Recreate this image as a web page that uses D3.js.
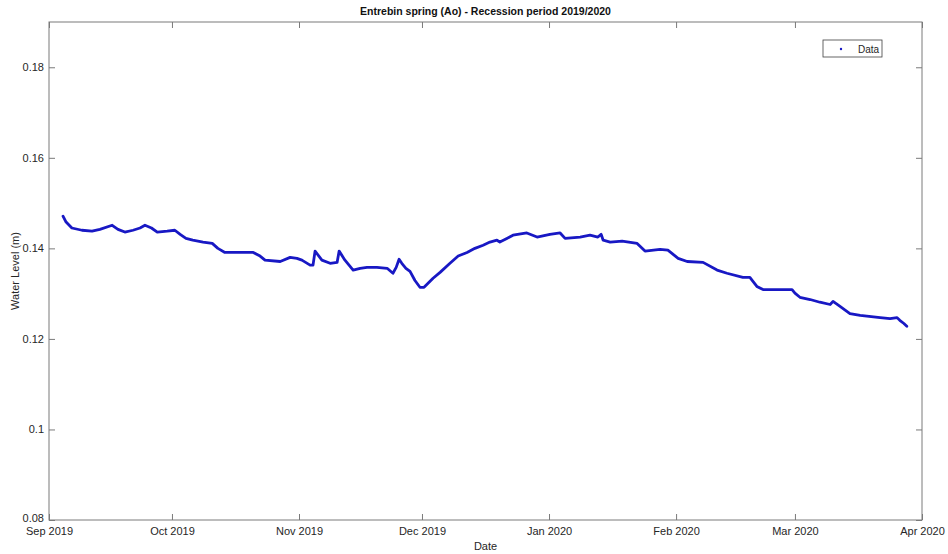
<!DOCTYPE html>
<html>
<head>
<meta charset="utf-8">
<script src="https://cdn.jsdelivr.net/npm/d3@7"></script>
<style>
  body { margin: 0; background: #fff; }
  text { font-family: "Liberation Sans", Arial, sans-serif; }
</style>
</head>
<body>
<div id="chart"></div>
<script>
const dates = [
  "2019-09-04T10:00","2019-09-05T04:00","2019-09-06T14:00","2019-09-09T01:00","2019-09-11T12:00",
  "2019-09-13T10:00","2019-09-16T10:00","2019-09-17T20:00","2019-09-19T12:00","2019-09-21T12:00",
  "2019-09-23T05:00","2019-09-24T10:00","2019-09-26T00:00","2019-09-27T10:00","2019-09-29T20:00",
  "2019-10-01T17:00","2019-10-03T00:00","2019-10-04T10:00","2019-10-06T02:00","2019-10-08T14:00",
  "2019-10-10T20:00","2019-10-12T05:00","2019-10-13T22:00","2019-10-17T14:00","2019-10-20T20:00",
  "2019-10-22T12:00","2019-10-23T17:00","2019-10-27T10:00","2019-10-29T20:00","2019-10-31T12:00",
  "2019-11-01T17:00","2019-11-03T17:00","2019-11-04T10:00","2019-11-04T22:00","2019-11-06T14:00",
  "2019-11-08T14:00","2019-11-10T07:00","2019-11-10T19:00","2019-11-12T05:00","2019-11-14T05:00",
  "2019-11-15T22:00","2019-11-17T14:00","2019-11-20T00:00","2019-11-22T12:00","2019-11-23T22:00",
  "2019-11-24T17:00","2019-11-25T10:00","2019-11-26T02:00","2019-11-27T02:00","2019-11-28T02:00",
  "2019-11-29T07:00","2019-11-30T12:00","2019-12-01T12:00","2019-12-03T17:00","2019-12-05T10:00",
  "2019-12-07T20:00","2019-12-09T20:00","2019-12-12T00:00","2019-12-13T22:00","2019-12-15T22:00",
  "2019-12-17T14:00","2019-12-19T07:00","2019-12-20T00:00","2019-12-21T17:00","2019-12-23T05:00",
  "2019-12-26T14:00","2019-12-29T02:00","2020-01-01T05:00","2020-01-03T17:00","2020-01-04T22:00",
  "2020-01-08T14:00","2020-01-11T00:00","2020-01-12T22:00","2020-01-13T17:00","2020-01-14T05:00",
  "2020-01-15T22:00","2020-01-18T20:00","2020-01-22T12:00","2020-01-24T10:00","2020-01-28T02:00",
  "2020-01-30T00:00","2020-02-01T12:00","2020-02-03T17:00","2020-02-07T14:00","2020-02-11T00:00",
  "2020-02-13T10:00","2020-02-17T07:00","2020-02-19T00:00","2020-02-20T17:00","2020-02-22T05:00",
  "2020-02-26T10:00","2020-02-29T07:00","2020-03-01T00:00","2020-03-02T05:00","2020-03-04T17:00",
  "2020-03-07T02:00","2020-03-09T14:00","2020-03-10T07:00","2020-03-12T00:00","2020-03-14T10:00",
  "2020-03-16T22:00","2020-03-21T19:00","2020-03-24T05:00","2020-03-25T22:00","2020-03-26T14:00",
  "2020-03-27T14:00","2020-03-28T07:00"
];
const level = [
  0.1471,0.1458,0.1445,0.1440,0.1438,
  0.1442,0.1451,0.1442,0.1436,0.1440,
  0.1445,0.1451,0.1445,0.1436,0.1438,
  0.1440,0.1431,0.1422,0.1418,0.1414,
  0.1411,0.1400,0.1391,0.1391,0.1391,
  0.1383,0.1374,0.1371,0.1380,0.1378,
  0.1374,0.1363,0.1363,0.1394,0.1374,
  0.1367,0.1369,0.1394,0.1374,0.1352,
  0.1356,0.1358,0.1358,0.1356,0.1345,
  0.1358,0.1376,0.1367,0.1356,0.1349,
  0.1329,0.1314,0.1314,0.1334,0.1347,
  0.1367,0.1383,0.1391,0.1400,0.1407,
  0.1414,0.1418,0.1414,0.1422,0.1429,
  0.1434,0.1425,0.1431,0.1434,0.1422,
  0.1425,0.1429,0.1425,0.1431,0.1418,
  0.1414,0.1416,0.1411,0.1394,0.1398,
  0.1396,0.1378,0.1371,0.1369,0.1352,
  0.1345,0.1336,0.1336,0.1316,0.1309,
  0.1309,0.1309,0.1301,0.1292,0.1287,
  0.1281,0.1276,0.1283,0.1272,0.1256,
  0.1252,0.1247,0.1245,0.1247,0.1241,
  0.1234,0.1228
];
const yTicks = [0.08, 0.1, 0.12, 0.14, 0.16, 0.18];
const xTicks = ["2019-09-01","2019-10-01","2019-11-01","2019-12-01","2020-01-01","2020-02-01","2020-03-01","2020-04-01"];

const width = 948, height = 554;
const margin = {top: 22, right: 26, bottom: 34, left: 49};
const w = width - margin.left - margin.right;
const h = height - margin.top - margin.bottom;

const parse = d3.isoParse;
const data = dates.map((d, i) => ({date: parse(d), value: level[i]}));

const svg = d3.select("#chart")
  .append("svg")
  .attr("width", width)
  .attr("height", height);

const g = svg.append("g").attr("transform", `translate(${margin.left},${margin.top})`);

const x = d3.scaleTime()
  .domain([parse("2019-09-01"), parse("2020-04-01")])
  .range([0, w]);
const y = d3.scaleLinear()
  .domain([0.08, 0.19])
  .range([h, 0]);

const axisColor = "#7a7a7a";
const fmt = d3.timeFormat("%b %Y");
const xt = xTicks.map(parse);

// box
g.append("rect")
  .attr("width", w).attr("height", h)
  .attr("fill", "none").attr("stroke", axisColor).attr("stroke-width", 1);

// bottom axis
const xAxis = g.append("g")
  .attr("transform", `translate(0,${h})`)
  .call(d3.axisBottom(x).tickValues(xt).tickFormat(fmt).tickSizeInner(-6).tickSizeOuter(0).tickPadding(8));
// top ticks
const xTop = g.append("g")
  .call(d3.axisTop(x).tickValues(xt).tickFormat("").tickSizeInner(-6).tickSizeOuter(0));
// left axis
const yAxis = g.append("g")
  .call(d3.axisLeft(y).tickValues(yTicks).tickFormat(d3.format("~g")).tickSizeInner(-6).tickSizeOuter(0).tickPadding(5));
// right ticks
const yRight = g.append("g")
  .attr("transform", `translate(${w},0)`)
  .call(d3.axisRight(y).tickValues(yTicks).tickFormat("").tickSizeInner(-6).tickSizeOuter(0));

[xAxis, xTop, yAxis, yRight].forEach(a => {
  a.select(".domain").remove();
  a.selectAll("line").attr("stroke", axisColor);
  a.selectAll("text").attr("fill", "#262626").style("font-size", "11px");
});
xAxis.selectAll("text").attr("dy", "0.6em");
// lift the bottom y label a little so it clears "Sep 2019"
yAxis.selectAll("text").filter(d => d === 0.08).attr("dy", "0.1em");

// data line
const line = d3.line()
  .x(d => x(d.date))
  .y(d => y(d.value));

g.append("path")
  .datum(data)
  .attr("fill", "none")
  .attr("stroke", "#1818c4")
  .attr("stroke-width", 2.8)
  .attr("stroke-linejoin", "round")
  .attr("stroke-linecap", "round")
  .attr("d", line);

// legend
const lg = g.append("g").attr("transform", `translate(${w - 99},18)`);
lg.append("rect")
  .attr("width", 59).attr("height", 17)
  .attr("fill", "#fff").attr("stroke", "#404040").attr("stroke-width", 0.8);
lg.append("circle").attr("cx", 18).attr("cy", 9).attr("r", 1.2).attr("fill", "#1818c4");
lg.append("text").attr("x", 35).attr("y", 12.5).attr("fill", "#262626")
  .style("font-size", "10px").text("Data");

// title and labels
svg.append("text")
  .attr("x", margin.left + w / 2).attr("y", 15)
  .attr("text-anchor", "middle").attr("fill", "#111")
  .style("font-size", "10.5px").style("font-weight", "bold")
  .text("Entrebin spring (Ao) - Recession period 2019/2020");

svg.append("text")
  .attr("x", margin.left + w / 2).attr("y", 550)
  .attr("text-anchor", "middle").attr("fill", "#262626")
  .style("font-size", "11px")
  .text("Date");

svg.append("text")
  .attr("transform", `translate(19,${margin.top + h / 2}) rotate(-90)`)
  .attr("text-anchor", "middle").attr("fill", "#262626")
  .style("font-size", "11px")
  .text("Water Level (m)");
</script>
</body>
</html>
